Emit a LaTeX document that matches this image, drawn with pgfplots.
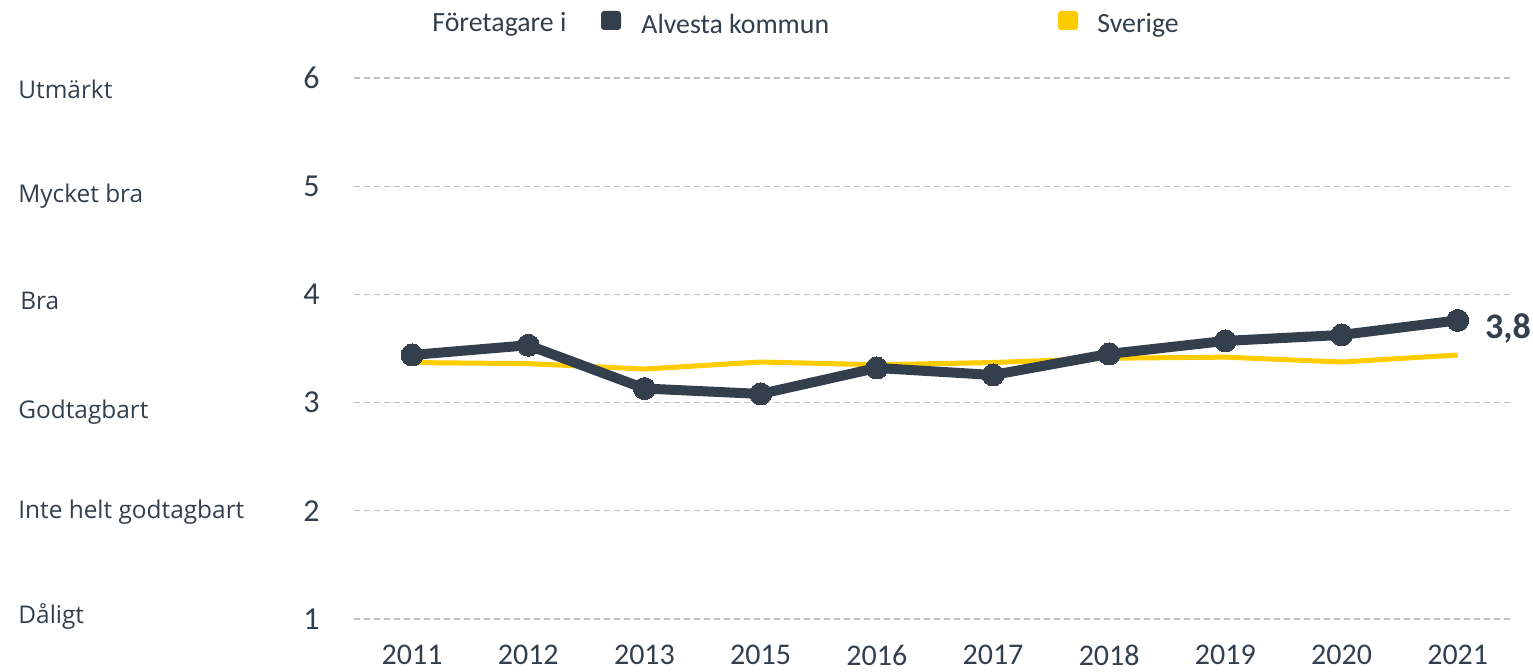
\documentclass[border=0pt]{standalone}
\usepackage{pgfplots}
\pgfplotsset{compat=1.18}
\usepackage{fontspec}
\setmainfont{Carlito}
\newfontfamily\labfont{Open Sans}
\definecolor{darkc}{HTML}{333F4C}
\definecolor{yellowc}{HTML}{FFCC00}
\definecolor{gridc}{HTML}{BFBFBF}
\begin{document}
\begin{tikzpicture}
\useasboundingbox (0,0) rectangle (766.5pt,336pt);
\begin{axis}[
  at={(177pt,26.5pt)}, anchor=south west,
  scale only axis, width=578pt, height=270.5pt,
  xmin=-0.5, xmax=9.45, ymin=1, ymax=6,
  axis line style={draw=none},
  xtick={0,...,9},
  xticklabels={2011,2012,2013,2015,2016,2017,2018,2019,2020,2021},
  ytick={1,2,3,4,5,6},
  major tick length=0pt,
  ymajorgrids, grid style={gridc, line width=0.6pt, dash pattern=on 3pt off 2pt},
  xticklabel style={anchor=north, inner sep=0pt, yshift=-13pt, font=\fontsize{15}{18}\selectfont, text=darkc},
  yticklabel style={anchor=east, inner sep=0pt, xshift=-17pt, font=\fontsize{16}{18}\selectfont, text=darkc},
  /pgf/number format/assume math mode=true,
  clip=false,
]
\addplot[yellowc, line width=2.5pt, line join=round] coordinates {
(0,3.37) (1,3.36) (2,3.31) (3,3.375) (4,3.35) (5,3.37) (6,3.41) (7,3.42) (8,3.375) (9,3.44)};
\addplot[darkc, line width=5pt, line join=round, mark=*, mark size=5.5pt, mark options={fill=darkc, draw=darkc, line width=0pt}] coordinates {
(0,3.44) (1,3.53) (2,3.13) (3,3.08) (4,3.32) (5,3.255) (6,3.45) (7,3.57) (8,3.625) (9,3.76)};
\node[anchor=west, inner sep=0pt, xshift=13.5pt, yshift=-4pt, font=\fontsize{18}{20}\selectfont\bfseries, text=darkc] at (axis cs:9,3.76) {3,8};
\end{axis}
\begin{scope}[every node/.style={anchor=base west, inner sep=0pt, text=darkc, font=\labfont\fontsize{12.2}{14}\selectfont}]
\node at (9pt,286.5pt) {Utmärkt};
\node at (9pt,234.5pt) {Mycket bra};
\node at (10pt,181pt) {Bra};
\node at (9pt,126.5pt) {Godtagbart};
\node at (9pt,76.5pt) {Inte helt godtagbart};
\node at (9pt,24pt) {Dåligt};
\end{scope}
\begin{scope}[every node/.style={anchor=base west, inner sep=0pt, text=darkc, font=\fontsize{13.9}{16}\selectfont}]
\node at (216pt,320pt) {Företagare i};
\fill[darkc, rounded corners=1.5pt] (300.5pt,321pt) rectangle (310.5pt,330.5pt);
\node at (320.5pt,319pt) {Alvesta kommun};
\fill[yellowc, rounded corners=1.5pt] (529pt,321pt) rectangle (539pt,330.5pt);
\node at (548.5pt,319.5pt) {Sverige};
\end{scope}
\end{tikzpicture}
\end{document}
